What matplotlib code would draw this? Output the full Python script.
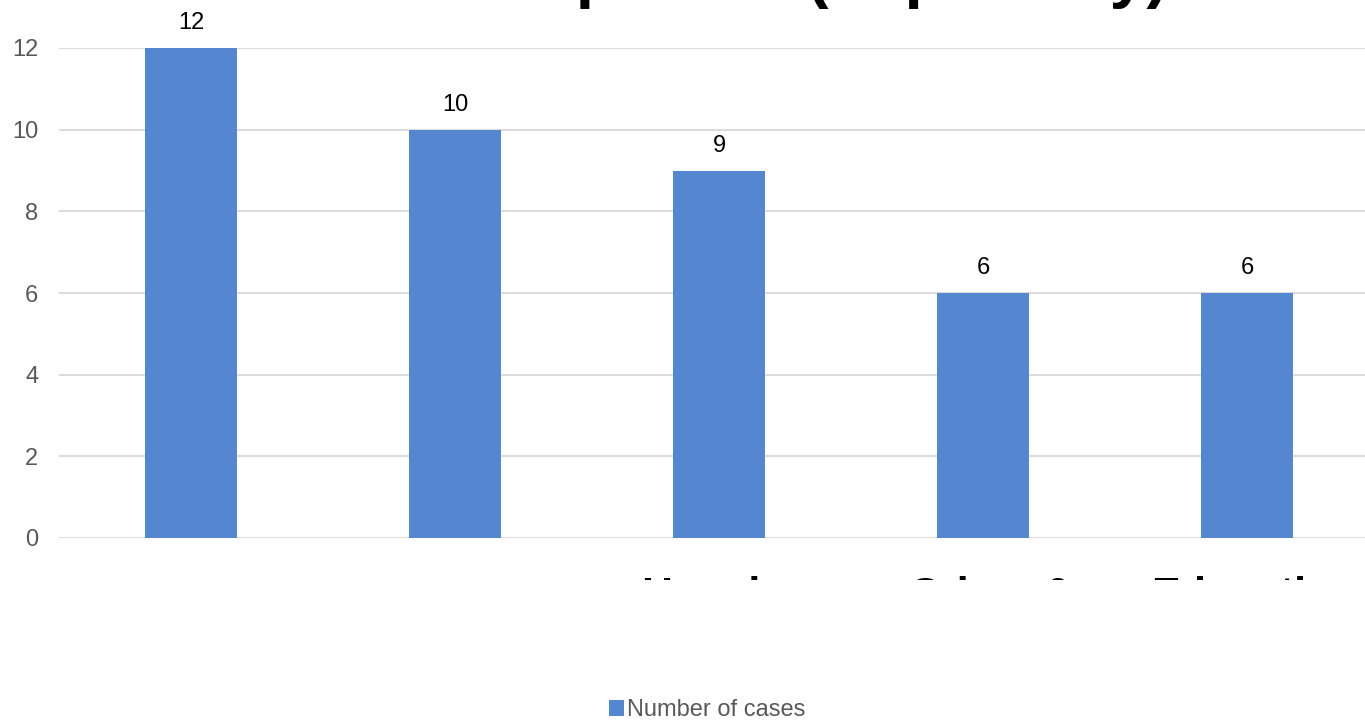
import matplotlib
matplotlib.use("Agg")
import matplotlib.pyplot as plt
from matplotlib.transforms import Bbox

plt.rcParams['font.family'] = ['Liberation Sans', 'DejaVu Sans']

# data
categories = ["", "", "Housing", "Crime &\nSafety", "Education"]
cases = [12, 10, 9, 6, 6]
yticks = [0, 2, 4, 6, 8, 10, 12]
series_name = "Number of cases"
title = "Number of Complaints (Top Entity)"

bar_color = "#5587d0"
grey = "#595959"

fig = plt.figure(figsize=(13.65, 7.21), dpi=100)
ax = fig.add_axes([59 / 1365, 183 / 721, 1320 / 1365, 490 / 721])

x = range(len(cases))
ax.bar(x, cases, width=0.352, color=bar_color, label=series_name, zorder=3)

ax.set_xlim(-0.5, len(cases) - 0.5)
ax.set_ylim(0, 12)
ax.set_yticks(yticks)
ax.set_xticks([])
ax.yaxis.grid(True, color="#d9d9d9", linewidth=1.3, zorder=0)
ax.tick_params(axis='y', length=0, pad=15, labelsize=17, labelcolor=grey)
for s in ax.spines.values():
    s.set_visible(False)

for i, v in zip(x, cases):
    ax.annotate(str(v), (i, v), xytext=(0, 10), textcoords='offset points',
                ha='center', va='bottom', fontsize=17, color='black',
                annotation_clip=False)

# category labels: only the top sliver is visible in the reference
clip = Bbox.from_extents(0, 721 - 580, 1365, 721 - 560)
for i, lab in enumerate(categories):
    if not lab:
        continue
    t = ax.text(i + 0.03, -(576 - 538) / 490, lab, transform=ax.get_xaxis_transform(),
                ha='center', va='top', fontsize=31, fontweight='bold',
                color='black', linespacing=1.0)
    t.set_clip_box(clip)
    t.set_clip_on(True)

# title sits mostly above the canvas, just its descenders show
fig.text(80 / 1365, 1 + 4.6 / 721, title, ha='left', va='baseline',
         fontsize=47.5, fontweight='bold', color='black')

fig.legend(loc='center', bbox_to_anchor=(707 / 1365, 1 - 710 / 721),
           frameon=False, fontsize=17, labelcolor=grey,
           handlelength=0.65, handleheight=0.65, handletextpad=0.1)

fig.savefig("out.png", dpi=100, facecolor='white')
